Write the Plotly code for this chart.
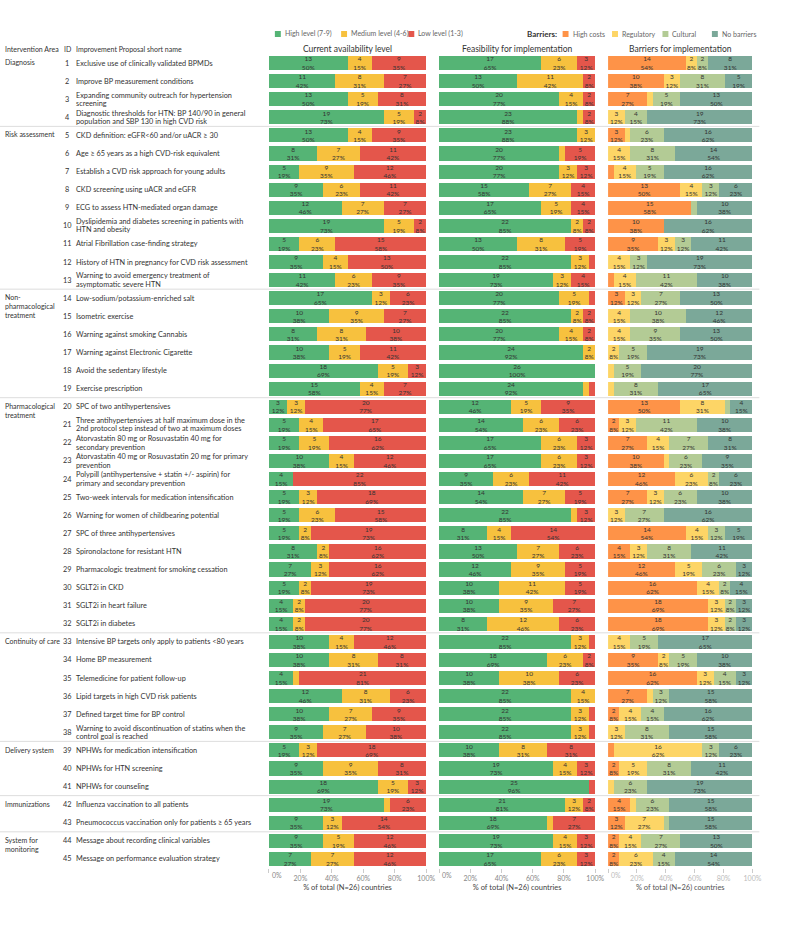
import plotly.graph_objects as go

N = 26
areas = ["Diagnosis", "Risk assessment", "Non-<br>pharmacological<br>treatment",
         "Pharmacological<br>treatment", "Continuity of care", "Delivery system",
         "Immunizations", "System for<br>monitoring"]
area_sizes = [4, 9, 6, 13, 6, 3, 2, 2]

names = [
    "Exclusive use of clinically validated BPMDs",
    "Improve BP measurement conditions",
    "Expanding community outreach for hypertension<br>screening",
    "Diagnostic thresholds for HTN: BP 140/90 in general<br>population and SBP 130 in high CVD risk",
    "CKD definition: eGFR<60 and/or uACR ≥ 30",
    "Age ≥ 65 years as a high CVD-risk equivalent",
    "Establish a CVD risk approach for young adults",
    "CKD screening using uACR and eGFR",
    "ECG to assess HTN-mediated organ damage",
    "Dyslipidemia and diabetes screening in patients with<br>HTN and obesity",
    "Atrial Fibrillation case-finding strategy",
    "History of HTN in pregnancy for CVD risk assessment",
    "Warning to avoid emergency treatment of<br>asymptomatic severe HTN",
    "Low-sodium/potassium-enriched salt",
    "Isometric exercise",
    "Warning against smoking Cannabis",
    "Warning against Electronic Cigarette",
    "Avoid the sedentary lifestyle",
    "Exercise prescription",
    "SPC of two antihypertensives",
    "Three antihypertensives at half maximum dose in the<br>2nd protocol step instead of two at maximum doses",
    "Atorvastatin 80 mg or Rosuvastatin 40 mg for<br>secondary prevention",
    "Atorvastatin 40 mg or Rosuvastatin 20 mg for primary<br>prevention",
    "Polypill (antihypertensive + statin +/- aspirin) for<br>primary and secondary prevention",
    "Two-week intervals for medication intensification",
    "Warning for women of childbearing potential",
    "SPC of three antihypertensives",
    "Spironolactone for resistant HTN",
    "Pharmacologic treatment for smoking cessation",
    "SGLT2i in CKD",
    "SGLT2i in heart failure",
    "SGLT2i in diabetes",
    "Intensive BP targets only apply to patients <80 years",
    "Home BP measurement",
    "Telemedicine for patient follow-up",
    "Lipid targets in high CVD risk patients",
    "Defined target time for BP control",
    "Warning to avoid discontinuation of statins when the<br>control goal is reached",
    "NPHWs for medication intensification",
    "NPHWs for HTN screening",
    "NPHWs for counseling",
    "Influenza vaccination to all patients",
    "Pneumococcus vaccination only for patients ≥ 65 years",
    "Message about recording clinical variables",
    "Message on performance evaluation strategy",
]
ids = list(range(1, 46))

# Current availability level
avail_high = [13,11,13,19, 13,8,5,9,12,19,5,9,11, 17,10,8,10,18,15,
              3,5,5,10,4,5,5,5,8,7,5,4,4, 10,10,4,12,10,9, 5,9,18, 19,9, 9,7]
avail_med  = [4,8,5,5, 4,7,9,6,7,5,6,4,6, 3,9,8,5,5,4,
              3,4,5,4,0,3,6,2,2,3,2,2,2, 4,8,1,8,7,7, 3,9,5, 1,3, 5,7]
avail_low  = [9,7,8,2, 9,11,12,11,7,2,15,13,9, 6,7,10,11,3,7,
              20,17,16,12,22,18,15,19,16,16,19,20,20, 12,8,21,6,9,10, 18,8,3, 6,14, 12,12]

# Feasibility for implementation
feas_high = [17,13,20,23, 23,20,20,15,17,22,13,22,19, 20,22,20,24,26,24,
             12,14,17,17,9,14,22,8,13,12,10,10,8, 22,18,10,22,22,22, 10,19,25, 21,18, 19,17]
feas_med  = [6,11,4,1, 3,1,3,7,5,2,8,3,3, 5,2,4,2,0,1,
             5,6,6,6,6,7,1,4,7,9,11,9,12, 3,6,10,4,3,3, 8,4,0, 3,1, 4,6]
feas_low  = [3,2,2,2, 0,5,3,4,4,2,5,1,4, 1,2,2,0,0,1,
             9,6,3,3,11,5,3,14,6,5,5,7,6, 1,2,6,0,1,1, 8,3,1, 2,7, 3,3]

# Barriers for implementation
bar_cost = [14,10,7,0, 3,0,1,13,15,10,9,0,1, 3,0,0,0,0,0,
            13,2,7,10,12,7,0,14,4,12,16,18,18, 0,9,16,7,2,0, 1,2,0, 4,3, 2,2]
bar_reg  = [2,3,1,3, 1,4,4,4,0,0,3,4,4, 3,4,4,2,1,1,
            8,3,4,1,6,3,3,4,3,5,4,3,3, 4,2,3,1,4,3, 16,5,1, 1,7, 4,6]
bar_cult = [2,8,5,4, 6,8,5,3,1,0,3,3,11, 7,10,9,5,5,8,
            1,11,7,6,2,6,7,3,8,6,2,2,2, 5,5,4,3,4,8, 3,8,6, 6,1, 7,4]
bar_none = [8,5,13,19, 16,14,16,6,10,16,11,19,10, 13,12,13,19,20,17,
            4,10,8,9,6,10,16,5,11,3,4,3,3, 17,10,3,15,16,15, 6,11,19, 15,15, 13,14]

tick_vals = [0, 20, 40, 60, 80, 100]
tick_text = ["", "20%", "40%", "60%", "80%", "100%"]
first_tick_text = "0%"

FONT = "Lato"
rows = list(range(len(names)))

def pct(v):
    return [100.0 * x / N for x in v]

def labels(v):
    return [f"{x}<br>{round(100 * x / N)}%" if x >= 2 else "" for x in v]

fig = go.Figure()

panels = [
    ("x", [("High level (7-9)", avail_high, "#55B475"),
           ("Medium level (4-6)", avail_med, "#F7C13E"),
           ("Low level (1-3)", avail_low, "#E4564B")]),
    ("x2", [("High level (7-9)", feas_high, "#55B475"),
            ("Medium level (4-6)", feas_med, "#F7C13E"),
            ("Low level (1-3)", feas_low, "#E4564B")]),
    ("x3", [("High costs", bar_cost, "#FE9348"),
            ("Regulatory", bar_reg, "#FDD566"),
            ("Cultural", bar_cult, "#B3CB95"),
            ("No barriers", bar_none, "#7BA899")]),
]

for xa, series in panels:
    for nm, vals, col in series:
        fig.add_trace(go.Bar(
            x=pct(vals), y=rows, orientation="h", name=nm,
            xaxis=xa, yaxis="y",
            marker=dict(color=col, line=dict(width=0)),
            text=labels(vals), textposition="inside", textangle=0,
            insidetextanchor="middle",
            textfont=dict(size=6.5, color="#333333", family=FONT),
            constraintext="none", cliponaxis=False,
            showlegend=False, hoverinfo="skip",
        ))

H = 925.0
W = 800.0
y_top = 1 - 54 / H
y_bot = 1 - 868 / H

axis_common = dict(range=[0, 100], tickmode="array", tickvals=tick_vals, ticktext=tick_text,
                   ticks="outside", ticklen=4, tickcolor="#cccccc",
                   showgrid=False, zeroline=False, showline=False,
                   anchor="y", fixedrange=True)

fig.update_layout(
    width=800, height=925,
    margin=dict(l=0, r=0, t=0, b=0),
    paper_bgcolor="white", plot_bgcolor="white",
    barmode="stack", bargap=0.22,
    uniformtext=dict(minsize=6.5, mode="show"),
    font=dict(family=FONT, size=7.5, color="#333333"),
    yaxis=dict(domain=[y_bot, y_top], range=[len(names) - 0.5, -0.5],
               showticklabels=False, showgrid=False, zeroline=False,
               showline=False, fixedrange=True),
    xaxis=dict(domain=[272 / W, 431 / W],
               tickfont=dict(size=7, color="#888888", family=FONT),
               title=dict(text="% of total (N=26) countries", standoff=3,
                          font=dict(size=7.5, color="#444444", family=FONT)),
               **axis_common),
    xaxis2=dict(domain=[444 / W, 602 / W],
                tickfont=dict(size=7, color="#888888", family=FONT),
                title=dict(text="% of total (N=26) countries", standoff=3,
                           font=dict(size=7.5, color="#444444", family=FONT)),
                **axis_common),
    xaxis3=dict(domain=[615 / W, 761 / W],
                tickfont=dict(size=7, color="#bbbbbb", family=FONT),
                title=dict(text="% of total (N=26) countries", standoff=3,
                           font=dict(size=7.5, color="#555555", family=FONT)),
                **axis_common),
)

annotations = []
shapes = []

# First tick labels ("0%"), left-aligned at the axis origin like the reference
for xa, col in [("x", "#888888"), ("x2", "#888888"), ("x3", "#bbbbbb")]:
    annotations.append(dict(x=tick_vals[0], xref=xa, y=1 - 869 / H, yref="paper",
                            text=first_tick_text, showarrow=False, xanchor="left",
                            yanchor="top", xshift=1,
                            font=dict(size=7, color=col)))

# Row labels
for r, (i, nm) in enumerate(zip(ids, names)):
    annotations.append(dict(x=68 / W, y=r, xref="paper", yref="y", text=str(i),
                            showarrow=False, xanchor="center", yanchor="middle",
                            font=dict(size=7.3, color="#333333")))
    lines = nm.split("<br>")
    offs = [0.0] if len(lines) == 1 else [-0.23, 0.23]
    for ln, off in zip(lines, offs):
        annotations.append(dict(x=75 / W, y=r + off, xref="paper", yref="y", text=ln,
                                showarrow=False, xanchor="left", yanchor="middle", align="left",
                                font=dict(size=7.3, color="#333333")))

# Area labels and separators
start = 0
for a, n in zip(areas, area_sizes):
    parts = a.split("<br>")
    for k, p in enumerate(parts):
        annotations.append(dict(x=3 / W, y=start - 0.05 + 0.5 * k, xref="paper", yref="y", text=p,
                                showarrow=False, xanchor="left", yanchor="middle", align="left",
                                font=dict(size=7, color="#333333")))
    end = start + n
    if end < len(names):
        shapes.append(dict(type="line", xref="paper", yref="y", x0=0, x1=768 / W,
                           y0=end - 0.5, y1=end - 0.5,
                           line=dict(color="#dddddd", width=1)))
    start = end

# Column headers
hy = 1 - 49 / H
annotations += [
    dict(x=3 / W, y=hy, xref="paper", yref="paper", text="Intervention Area",
         showarrow=False, xanchor="left", yanchor="middle", font=dict(size=7)),
    dict(x=68 / W, y=hy, xref="paper", yref="paper", text="ID",
         showarrow=False, xanchor="center", yanchor="middle", font=dict(size=7)),
    dict(x=75 / W, y=hy, xref="paper", yref="paper", text="Improvement Proposal short name",
         showarrow=False, xanchor="left", yanchor="middle", font=dict(size=7)),
    dict(x=(272 + 431) / 2 / W, y=hy, xref="paper", yref="paper", text="Current availability level",
         showarrow=False, xanchor="center", yanchor="middle", font=dict(size=8.5)),
    dict(x=(444 + 602) / 2 / W, y=hy, xref="paper", yref="paper", text="Feasibility for implementation",
         showarrow=False, xanchor="center", yanchor="middle", font=dict(size=8.5)),
    dict(x=(615 + 761) / 2 / W, y=hy, xref="paper", yref="paper", text="Barriers for implementation",
         showarrow=False, xanchor="center", yanchor="middle", font=dict(size=8.5)),
]

# Legends
ly = 1 - 34 / H
legend_items = [
    (278, "High level (7-9)", "#55B475"),
    (345, "Medium level (4-6)", "#F7C13E"),
    (413, "Low level (1-3)", "#E4564B"),
    (569, "High costs", "#FE9348"),
    (619, "Regulatory", "#FDD566"),
    (670, "Cultural", "#B3CB95"),
    (720, "No barriers", "#7BA899"),
]
for px, txt, col in legend_items:
    shapes.append(dict(type="rect", xref="paper", yref="paper",
                       x0=px / W, x1=(px + 6) / W, y0=ly - 3 / H, y1=ly + 3 / H,
                       fillcolor=col, line=dict(width=0)))
    annotations.append(dict(x=(px + 8) / W, y=ly, xref="paper", yref="paper", text=txt,
                            showarrow=False, xanchor="left", yanchor="middle",
                            font=dict(size=7, color="#666666")))
annotations.append(dict(x=531 / W, y=ly, xref="paper", yref="paper", text="<b>Barriers:</b>",
                        showarrow=False, xanchor="left", yanchor="middle",
                        font=dict(size=8, color="#333333")))

fig.update_layout(annotations=annotations, shapes=shapes)
fig.write_html("out.html")
